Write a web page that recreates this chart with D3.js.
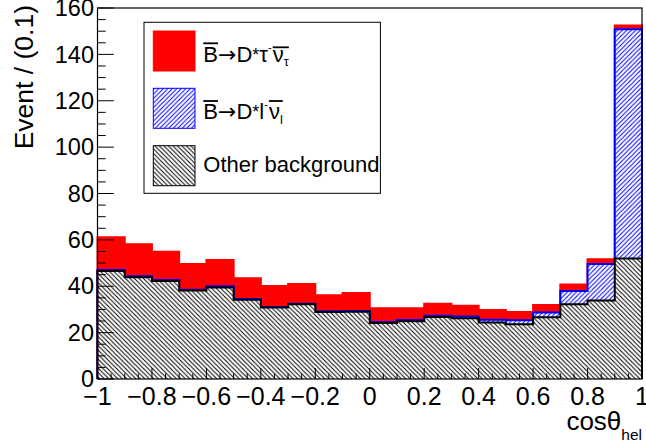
<!DOCTYPE html>
<html>
<head>
<meta charset="utf-8">
<script src="https://cdn.jsdelivr.net/npm/d3@7"></script>
<style>
  html, body { margin: 0; padding: 0; background: #fff; }
  svg { display: block; font-family: "Liberation Sans", Arial, Helvetica, sans-serif; }
</style>
</head>
<body>
<svg id="chart" width="646" height="444"></svg>
<script>
// Helicity-angle distribution, stacked by component (bins of 0.1 in cos(theta_hel))
const binLow = [-1.0, -0.9, -0.8, -0.7, -0.6, -0.5, -0.4, -0.3, -0.2, -0.1,
                 0.0,  0.1,  0.2,  0.3,  0.4,  0.5,  0.6,  0.7,  0.8,  0.9];
const binWidth = 0.1;

// Other background (bottom of the stack)
const otherBkg = [46.6, 43.9, 42.3, 38.2, 39.5, 34.2, 30.8, 32.2, 28.9, 29.0,
                  24.1, 24.9, 26.7, 26.2, 24.4, 23.6, 26.6, 32.2, 33.9, 52.0];
// B -> D* l nu (middle of the stack)
const dstarLnu = [0.4, 0.4, 0.4, 0.3, 0.5, 0.3, 0.2, 0.3, 0.3, 0.3,
                  0.5, 0.5, 0.6, 0.8, 1.2, 1.7, 2.1, 5.7, 15.7, 98.8];
// B -> D* tau nu (top of the stack)
const dstarTaunu = [14.1, 13.8, 12.2, 11.1, 11.3, 8.9, 9.1, 8.5, 6.9, 7.8,
                    5.9, 5.1, 5.2, 4.6, 4.2, 3.6, 3.2, 2.9, 2.0, 1.7];

const xTickValues = [-1, -0.8, -0.6, -0.4, -0.2, 0, 0.2, 0.4, 0.6, 0.8, 1];
const yTickValues = [0, 20, 40, 60, 80, 100, 120, 140, 160];

const W = 646, H = 444;
const frame = { left: 97.5, right: 642, top: 8, bottom: 379 };

const x = d3.scaleLinear().domain([-1, 1]).range([frame.left, frame.right]);
const y = d3.scaleLinear().domain([0, 160]).range([frame.bottom, frame.top]);

const svg = d3.select("#chart");
svg.append("rect").attr("width", W).attr("height", H).attr("fill", "#fff");

// Hatch patterns
const defs = svg.append("defs");
function hatch(id, color, dir) {
  const h = 4.5;
  const p = defs.append("pattern")
    .attr("id", id).attr("patternUnits", "userSpaceOnUse")
    .attr("width", h).attr("height", h);
  const d = dir === "back"
    ? `M${-1},${h - 1} l2,2 M0,0 l${h},${h} M${h - 1},-1 l2,2`
    : `M-1,1 l2,-2 M0,${h} l${h},${-h} M${h - 1},${h + 1} l2,-2`;
  p.append("path").attr("d", d).attr("stroke", color).attr("stroke-width", 1).attr("fill", "none");
}
hatch("hatchBlack", "#000", "back");
hatch("hatchBlue", "#0000ff", "fwd");

// Cumulative stack tops
const topOther = otherBkg.slice();
const topLnu = otherBkg.map((v, i) => v + dstarLnu[i]);
const topTau = topLnu.map((v, i) => v + dstarTaunu[i]);

function stepOutline(tops) {
  const p = d3.path();
  p.moveTo(x(binLow[0]), y(0));
  tops.forEach((v, i) => {
    p.lineTo(x(binLow[i]), y(v));
    p.lineTo(x(binLow[i] + binWidth), y(v));
  });
  p.lineTo(x(binLow[binLow.length - 1] + binWidth), y(0));
  return p.toString();
}

const plot = svg.append("g");
const layers = [
  { tops: topTau, fill: "#ff0000", pattern: null, line: "#ff0000" },
  { tops: topLnu, fill: "#fff", pattern: "url(#hatchBlue)", line: "#0000ff" },
  { tops: topOther, fill: "#fff", pattern: "url(#hatchBlack)", line: "#000" }
];
layers.forEach(L => {
  const d = stepOutline(L.tops);
  plot.append("path").attr("d", d + "Z").attr("fill", L.fill).attr("stroke", "none");
  if (L.pattern) plot.append("path").attr("d", d + "Z").attr("fill", L.pattern).attr("stroke", "none");
  plot.append("path").attr("d", d).attr("fill", "none")
    .attr("stroke", L.line).attr("stroke-width", 2).attr("stroke-linejoin", "miter");
});

// Frame
svg.append("rect")
  .attr("x", frame.left).attr("y", frame.top)
  .attr("width", frame.right - frame.left).attr("height", frame.bottom - frame.top)
  .attr("fill", "none").attr("stroke", "#000").attr("stroke-width", 1.2);

// X axis ticks (major every 0.2, minor every 0.05)
const axes = svg.append("g").attr("stroke", "#000").attr("stroke-width", 1);
d3.range(-1, 1.0001, 0.05).forEach(v => {
  const isMajor = Math.abs(Math.round(v * 5) - v * 5) < 1e-6;
  const len = isMajor ? 11 : 5.5;
  axes.append("line")
    .attr("x1", x(v)).attr("x2", x(v))
    .attr("y1", frame.bottom).attr("y2", frame.bottom - len);
});
// Y axis ticks (major every 20, minor every 5)
d3.range(0, 160.001, 5).forEach(v => {
  const isMajor = v % 20 === 0;
  const len = isMajor ? 16.3 : 8.2;
  axes.append("line")
    .attr("x1", frame.left).attr("x2", frame.left + len)
    .attr("y1", y(v)).attr("y2", y(v));
});

const fmt = v => (v < 0 ? "\u2212" : "") + d3.format("")(Math.abs(v));

svg.append("g").selectAll("text").data(xTickValues).join("text")
  .attr("x", d => x(d)).attr("y", 405)
  .attr("text-anchor", "middle").attr("font-size", 25)
  .text(fmt);

svg.append("g").selectAll("text").data(yTickValues).join("text")
  .attr("x", frame.left - 3.5).attr("y", d => y(d) + 8.2)
  .attr("text-anchor", "end").attr("font-size", 23.5)
  .text(d => d);

// Axis titles
svg.append("text")
  .attr("transform", `translate(33,5) rotate(-90)`)
  .attr("text-anchor", "end").attr("font-size", 26.5)
  .text("Event / (0.1)");

const xt = svg.append("text").attr("x", frame.right).attr("y", 430)
  .attr("text-anchor", "end").attr("font-size", 26);
xt.append("tspan").text("cos\u03b8");
xt.append("tspan").attr("font-size", 15.5).attr("dy", 10).text("hel");

// Legend
const leg = svg.append("g");
leg.append("rect").attr("x", 144).attr("y", 22.3).attr("width", 236.4).attr("height", 171)
  .attr("fill", "#fff").attr("stroke", "#000").attr("stroke-width", 1);

const sw = { x: 153.3, w: 41.7, h: 40 };
leg.append("rect").attr("x", sw.x).attr("y", 31).attr("width", sw.w).attr("height", sw.h)
  .attr("fill", "#ff0000").attr("stroke", "#ff0000").attr("stroke-width", 1);
leg.append("rect").attr("x", sw.x).attr("y", 88.3).attr("width", sw.w).attr("height", sw.h)
  .attr("fill", "url(#hatchBlue)").attr("stroke", "#0000ff").attr("stroke-width", 1);
leg.append("rect").attr("x", sw.x).attr("y", 145.7).attr("width", sw.w).attr("height", sw.h)
  .attr("fill", "url(#hatchBlack)").attr("stroke", "#000").attr("stroke-width", 1);

// Small formula typesetter: pieces laid left to right, optional overline groups
function formula(g, x0, base, pieces) {
  let cx = x0;
  const spans = {};
  pieces.forEach(p => {
    const t = g.append("text")
      .attr("x", cx).attr("y", base + (p.dy || 0))
      .attr("font-size", p.size || 22)
      .style("font-family", p.font || null)
      .text(p.t);
    const w = t.node().getComputedTextLength();
    if (p.over !== undefined) {
      const s = spans[p.over] || (spans[p.over] = { a: cx, b: cx, y: p.overY });
      s.b = cx + w;
      if (p.overY !== undefined) s.y = p.overY;
    }
    cx += w + (p.gap || 0);
  });
  Object.values(spans).forEach(s => {
    g.append("line").attr("x1", s.a).attr("x2", s.b)
      .attr("y1", base + s.y).attr("y2", base + s.y)
      .attr("stroke", "#000").attr("stroke-width", 1.8);
  });
}

const arrowFont = "DejaVu Sans";
formula(leg, 203.3, 62.3, [
  { t: "B", over: 0, overY: -19 },
  { t: "\u2192", font: arrowFont },
  { t: "D" },
  { t: "*", size: 18, dy: -1.5 },
  { t: "\u03c4" },
  { t: "-", size: 11, dy: -11, gap: 1 },
  { t: "\u03bd", over: 1, overY: -15 },
  { t: "\u03c4", size: 13, dy: 4, over: 1 }
]);
formula(leg, 203.3, 119, [
  { t: "B", over: 0, overY: -18 },
  { t: "\u2192", font: arrowFont },
  { t: "D" },
  { t: "*", size: 18, dy: -1.5 },
  { t: "l" },
  { t: "-", size: 11, dy: -11, gap: 1 },
  { t: "\u03bd", over: 1, overY: -18 },
  { t: "l", size: 13, dy: 5, over: 1 }
]);
leg.append("text").attr("x", 203.3).attr("y", 172).attr("font-size", 22).text("Other background");
</script>
</body>
</html>
